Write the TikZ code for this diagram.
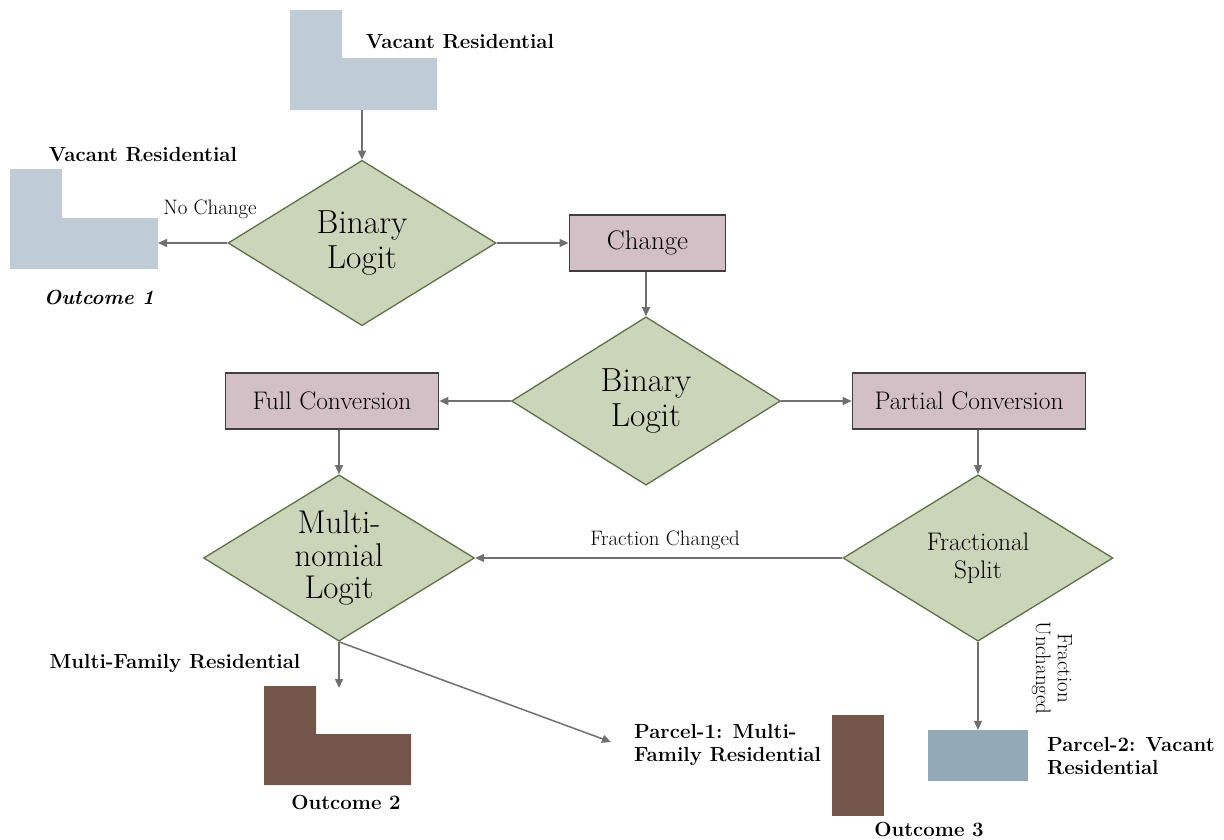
\documentclass[tikz,border=0pt]{standalone}
\usetikzlibrary{shapes.geometric,arrows.meta,calc}
\definecolor{vacant}{HTML}{BFCCD6}
\definecolor{vacantdk}{HTML}{94A9B8}
\definecolor{brownmf}{HTML}{735649}
\definecolor{diafill}{HTML}{CBD5BA}
\definecolor{diadraw}{HTML}{5F7147}
\definecolor{boxfill}{HTML}{D3C0C7}
\definecolor{boxdraw}{HTML}{3F3F3F}
\definecolor{arr}{HTML}{707070}
\tikzset{
  dia/.style={diamond, fill=diafill, draw=diadraw, line width=1.3bp, inner sep=0pt},
  diatext/.style={align=center, font=\fontsize{33.5}{35}\selectfont, inner sep=0pt},
  smalldiatext/.style={align=center, font=\fontsize{25.5}{28}\selectfont, inner sep=0pt},
  procbox/.style={rectangle, fill=boxfill, draw=boxdraw, line width=1.5bp, font=\fontsize{25.5}{28}\selectfont, inner sep=0pt},
  conn/.style={draw=arr, line width=1.5bp, -{Triangle[length=9bp,width=8bp]}},
  edgelabel/.style={font=\fontsize{21}{22}\selectfont, inner sep=0pt},
  boldlabel/.style={font=\fontsize{20.5}{22.5}\selectfont\bfseries, inner sep=0pt},
}
\begin{document}
\begin{tikzpicture}[x=1bp,y=-1bp]
\useasboundingbox (0,0) rectangle (1224,840);

% top vacant L shape
\fill[vacant] (290,10) -- (342,10) -- (342,58) -- (437,58) -- (437,110) -- (290,110) -- cycle;
\coordinate (vtop) at (362,110);
\node[boldlabel] (lvtop) at (460,42) {Vacant Residential};

% left vacant L shape (Outcome 1)
\fill[vacant] (10,169) -- (62,169) -- (62,218) -- (158,218) -- (158,269) -- (10,269) -- cycle;
\coordinate (o1) at (158,243);
\node[boldlabel] (lvleft) at (143,155) {Vacant Residential};
\node[boldlabel, font=\fontsize{20.5}{22}\selectfont\bfseries\itshape] (out1) at (99,297) {Outcome 1};

% diamonds
\node[dia, minimum width=269, minimum height=166] (d1) at (362,243) {};
\node[diatext] at (d1) {Binary\\Logit};
\node[dia, minimum width=270, minimum height=169] (d2) at (646,401) {};
\node[diatext] at (d2) {Binary\\Logit};
\node[dia, minimum width=272, minimum height=167] (d3) at (339,558) {};
\node[diatext, font=\fontsize{33}{33}\selectfont] at (d3) {Multi-\\nomial\\Logit};
\node[dia, minimum width=271, minimum height=167] (d4) at (978,558) {};
\node[smalldiatext] at (d4) {Fractional\\Split};

% boxes
\node[procbox, minimum width=157, minimum height=56, font=\fontsize{27}{28}\selectfont] (change) at (647.5,243) {Change};
\node[procbox, minimum width=214, minimum height=56] (full) at (332,401) {Full Conversion};
\node[procbox, minimum width=234, minimum height=56] (partial) at (969,401) {Partial Conversion};

% outcome 2 brown L
\fill[brownmf] (264,686) -- (316,686) -- (316,734) -- (411,734) -- (411,785) -- (264,785) -- cycle;
\coordinate (o2) at (339,688);
\node[boldlabel] (lmf) at (175,663) {Multi-Family Residential};
\node[boldlabel] (out2) at (346,802) {Outcome 2};

% outcome 3
\coordinate (p1) at (611,742);
\node[boldlabel, anchor=west, align=left] (lp1) at (634,745) {Parcel-1: Multi-\\Family Residential};
\node[fill=brownmf, minimum width=52, minimum height=101, inner sep=0pt] (p1box) at (858,765.5) {};
\node[boldlabel] (out3) at (929,829) {Outcome 3};
\node[fill=vacantdk, minimum width=101, minimum height=51, inner sep=0pt] (p2box) at (978,755.5) {};
\node[boldlabel, anchor=west, align=left] (lp2) at (1047,756) {Parcel-2: Vacant\\Residential};

% connectors
\draw[conn] (vtop) -- (d1.north);
\draw[conn] (d1.west) -- (o1);
\node[edgelabel] (lnc) at (210,209) {No Change};
\draw[conn] (d1.east) -- (change.west);
\draw[conn] (d2.north |- change.south) -- (d2.north);
\draw[conn] (d2.west) -- (full.east);
\draw[conn] (d2.east) -- (partial.west);
\draw[conn] (d3.north |- full.south) -- (d3.north);
\draw[conn] (d4.north |- partial.south) -- (d4.north);
\draw[conn] (d4.west) -- (d3.east);
\node[edgelabel] (lfc) at (665,540) {Fraction Changed};
\draw[conn] (d3.south) -- (o2);
\draw[conn] (d3.south) -- (p1);
\draw[conn] (d4.south) -- (p2box.north);
\node[edgelabel, rotate=-90, align=center] (lfu) at (1052,668) {Fraction\\Unchanged};
\end{tikzpicture}
\end{document}
